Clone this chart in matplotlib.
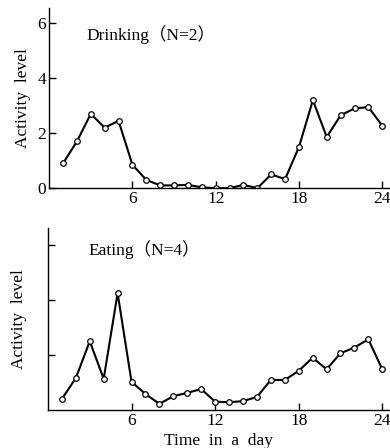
import numpy as np
import matplotlib.pyplot as plt

# hours of the day
hours = list(range(1, 25))

# drinking activity (N=2)
drinking = [0.9, 1.7, 2.7, 2.2, 2.45, 0.85, 0.3, 0.1, 0.1, 0.12, 0.03, 0.0,
            0.0, 0.12, 0.0, 0.5, 0.33, 1.5, 3.2, 1.86, 2.65, 2.9, 2.95, 2.27]

# eating activity (N=4)
eating = [0.4, 1.16, 2.5, 1.13, 4.25, 1.02, 0.58, 0.22, 0.5, 0.62, 0.76, 0.3,
          0.28, 0.32, 0.47, 1.09, 1.09, 1.42, 1.9, 1.48, 2.06, 2.27, 2.57, 1.48]

xticks = [6, 12, 18, 24]

plt.rcParams['font.family'] = ['Liberation Serif', 'Noto Sans CJK JP']
plt.rcParams['font.size'] = 12.5

fig = plt.figure(figsize=(3.9, 4.48), dpi=100)
ax1 = fig.add_axes([0.126, 0.580, 0.872, 0.402])
ax2 = fig.add_axes([0.123, 0.085, 0.875, 0.406])

def style(ax, ylim_top):
	for s in ['top', 'right']:
		ax.spines[s].set_visible(False)
	for s in ['left', 'bottom']:
		ax.spines[s].set_linewidth(1.0)
	ax.set_xlim(0, 24.5)
	ax.set_ylim(0, ylim_top)
	ax.set_xticks(xticks)
	ax.tick_params(direction='in', length=5, width=1, labelsize=12.5, pad=2)

# top panel
ax1.plot(hours, drinking, color='black', lw=1.5, marker='o', ms=4,
		 mfc='white', mec='black', mew=0.9)
style(ax1, 6.55)
ax1.set_yticks([0, 2, 4, 6])
ax1.set_ylabel('Activity  level', labelpad=5)
ax1.text(2.7, 5.6, 'Drinking（N=2）', fontsize=12.5, va='center')

# bottom panel
ax2.plot(hours, eating, color='black', lw=1.5, marker='o', ms=4,
		 mfc='white', mec='black', mew=0.9)
style(ax2, 6.62)
ax2.set_yticks([2, 4, 6])
ax2.set_yticklabels([])
ax2.set_ylabel('Activity  level', labelpad=13)
ax2.set_xlabel('Time  in  a  day', labelpad=3)
ax2.text(2.9, 5.85, 'Eating（N=4）', fontsize=12.5, va='center')

plt.savefig('out.png', dpi=100)
